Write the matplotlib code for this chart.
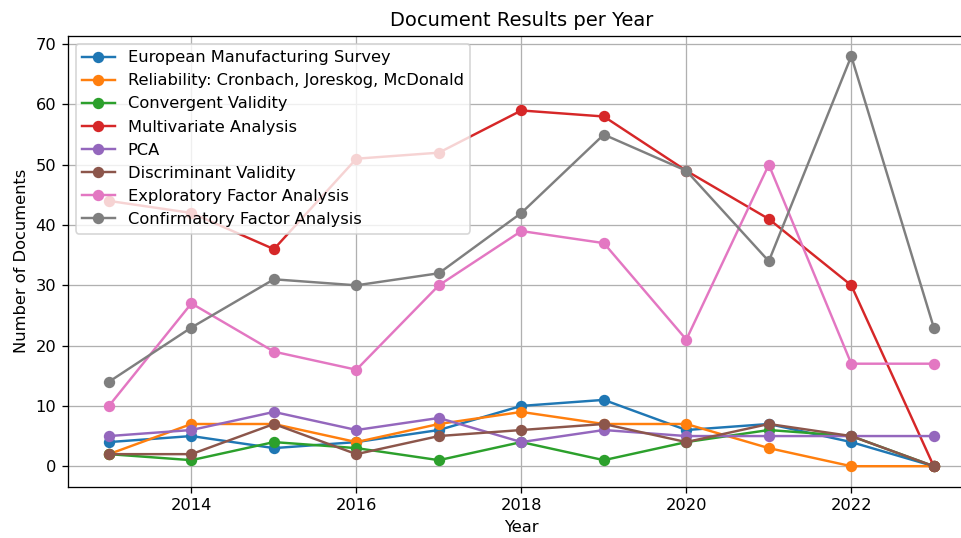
import matplotlib
matplotlib.use("Agg")
import matplotlib.pyplot as plt

years = [2013, 2014, 2015, 2016, 2017, 2018, 2019, 2020, 2021, 2022, 2023]

european_survey = [4, 5, 3, 4, 6, 10, 11, 6, 7, 4, 0]
reliability = [2, 7, 7, 4, 7, 9, 7, 7, 3, 0, 0]
convergent = [2, 1, 4, 3, 1, 4, 1, 4, 6, 5, 0]
multivariate = [44, 42, 36, 51, 52, 59, 58, 49, 41, 30, 0]
pca = [5, 6, 9, 6, 8, 4, 6, 5, 5, 5, 5]
discriminant = [2, 2, 7, 2, 5, 6, 7, 4, 7, 5, 0]
exploratory = [10, 27, 19, 16, 30, 39, 37, 21, 50, 17, 17]
confirmatory = [14, 23, 31, 30, 32, 42, 55, 49, 34, 68, 23]

series = [
    ("European Manufacturing Survey", european_survey),
    ("Reliability: Cronbach, Joreskog, McDonald", reliability),
    ("Convergent Validity", convergent),
    ("Multivariate Analysis", multivariate),
    ("PCA", pca),
    ("Discriminant Validity", discriminant),
    ("Exploratory Factor Analysis", exploratory),
    ("Confirmatory Factor Analysis", confirmatory),
]

# reference looks like a default plot rendered at ~117 dpi, right edge cropped
dpi = 116.7
fig = plt.figure(figsize=(961 / dpi, 538 / dpi), dpi=dpi)
ax = fig.add_axes([67.7 / 961, (538 - 486.7) / 538, (975 - 67.7) / 961, (486.7 - 35.7) / 538])

for label, vals in series:
    ax.plot(years, vals, marker="o", label=label)

ax.set_title("Document Results per Year")
ax.set_xlabel("Year")
ax.set_ylabel("Number of Documents")
ax.grid(True)
ax.legend(loc="upper left")

fig.savefig("out.png", dpi=dpi)
